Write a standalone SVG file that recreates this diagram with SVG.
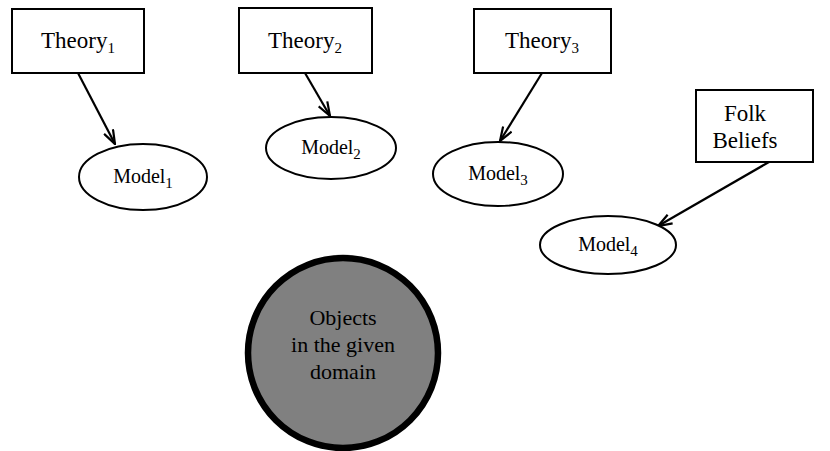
<svg xmlns="http://www.w3.org/2000/svg" width="830" height="451" viewBox="0 0 830 451">
<defs>
<style>
.box{fill:#fff;stroke:#000;stroke-width:2}
.ell{fill:#fff;stroke:#000;stroke-width:2}
text{font-family:'Liberation Serif','Times New Roman',serif;fill:#000;text-anchor:middle}
.big{font-size:23px}
.obj{font-size:22px}
.med{font-size:20px}
.sub{font-size:15px}
.edge{stroke:#000;stroke-width:2.2;fill:none;marker-end:url(#arr)}
</style>
<marker id="arr" viewBox="0 0 16 12" refX="15" refY="6" markerWidth="16" markerHeight="12" markerUnits="userSpaceOnUse" orient="auto">
<path d="M1,1 L15,6 L1,11" fill="none" stroke="#000" stroke-width="2.2"/>
</marker>
</defs>
<rect width="830" height="451" fill="#fff"/>
<g id="connectors">
<line class="edge" x1="78" y1="73" x2="115" y2="144"/>
<line class="edge" x1="305" y1="73" x2="330" y2="116"/>
<line class="edge" x1="542" y1="73" x2="500" y2="141"/>
<line class="edge" x1="769" y1="162" x2="658" y2="226"/>
</g>
<g id="theory1">
<rect class="box" x="12" y="9" width="132" height="64"/>
<text class="big" x="78" y="48">Theory<tspan class="sub" dy="5">1</tspan></text>
</g>
<g id="theory2">
<rect class="box" x="239" y="8" width="133" height="65"/>
<text class="big" x="305" y="48">Theory<tspan class="sub" dy="5">2</tspan></text>
</g>
<g id="theory3">
<rect class="box" x="474" y="9" width="137" height="64"/>
<text class="big" x="542" y="48">Theory<tspan class="sub" dy="5">3</tspan></text>
</g>
<g id="folk">
<rect class="box" x="696" y="90" width="117" height="72"/>
<text class="big" x="745" y="121">Folk</text>
<text class="big" x="745" y="148">Beliefs</text>
</g>
<g id="model1">
<ellipse class="ell" cx="143" cy="177" rx="64" ry="33"/>
<text class="med" x="143" y="183">Model<tspan class="sub" dy="5">1</tspan></text>
</g>
<g id="model2">
<ellipse class="ell" cx="331" cy="148" rx="65" ry="31"/>
<text class="med" x="331" y="154">Model<tspan class="sub" dy="5">2</tspan></text>
</g>
<g id="model3">
<ellipse class="ell" cx="498" cy="174" rx="65" ry="32"/>
<text class="med" x="498" y="180">Model<tspan class="sub" dy="5">3</tspan></text>
</g>
<g id="model4">
<ellipse class="ell" cx="608" cy="245" rx="68" ry="29"/>
<text class="med" x="608" y="251">Model<tspan class="sub" dy="5">4</tspan></text>
</g>
<g id="objects">
<circle cx="343" cy="353" r="95" fill="#808080" stroke="#000" stroke-width="6.5"/>
<text class="obj" x="343" y="325">Objects</text>
<text class="obj" x="343" y="352">in the given</text>
<text class="obj" x="343" y="379">domain</text>
</g>
</svg>
